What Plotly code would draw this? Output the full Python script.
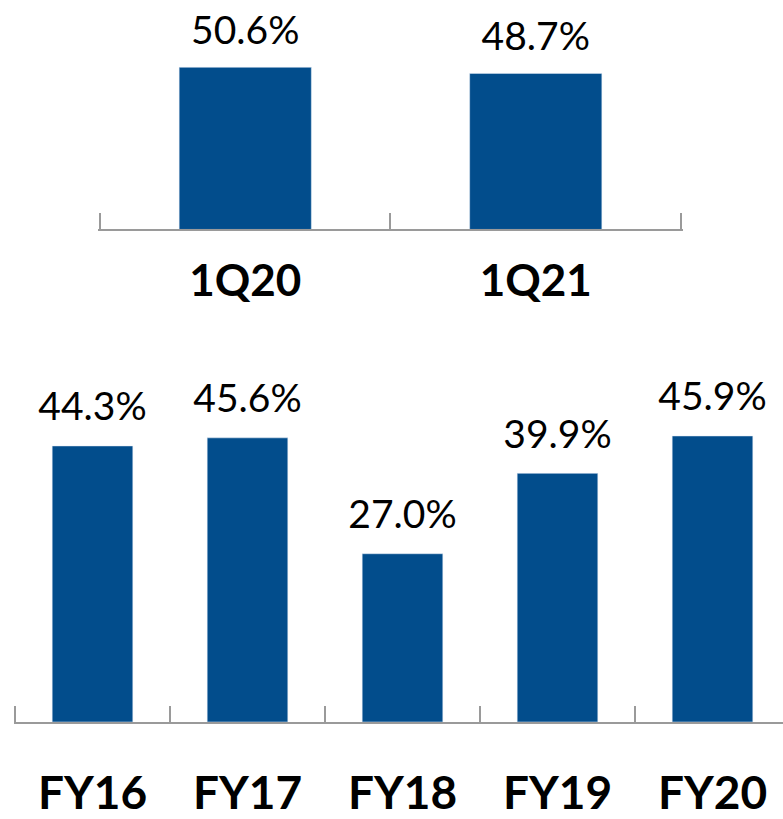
import plotly.graph_objects as go

q_categories = ["1Q20", "1Q21"]
q_values = [50.6, 48.7]
fy_categories = ["FY16", "FY17", "FY18", "FY19", "FY20"]
fy_values = [44.3, 45.6, 27.0, 39.9, 45.9]

BAR = "#024D8C"
AXIS = "#9A9A9A"
FONT = "Lato"

fig = go.Figure()
fig.add_trace(go.Bar(x=q_categories, y=q_values, marker_color=BAR, width=0.455,
                     xaxis="x", yaxis="y", hoverinfo="skip"))
fig.add_trace(go.Scatter(x=q_categories, y=q_values, mode="markers+text",
                         text=[f"{v:.1f}%" for v in q_values], textposition="top center",
                         marker=dict(size=20, opacity=0), cliponaxis=False,
                         textfont=dict(size=39, color="#000", family=FONT),
                         xaxis="x", yaxis="y", hoverinfo="skip"))
fig.add_trace(go.Bar(x=fy_categories, y=fy_values, marker_color=BAR, width=0.52,
                     xaxis="x2", yaxis="y2", hoverinfo="skip"))
fig.add_trace(go.Scatter(x=fy_categories, y=fy_values, mode="markers+text",
                         text=[f"{v:.1f}%" for v in fy_values], textposition="top center",
                         marker=dict(size=24, opacity=0), cliponaxis=False,
                         textfont=dict(size=39, color="#000", family=FONT),
                         xaxis="x2", yaxis="y2", hoverinfo="skip"))

W, H = 783, 819
xax = dict(type="category", showline=True, linecolor=AXIS, linewidth=2,
           ticks="inside", tickson="boundaries", ticklen=16, tickcolor=AXIS, tickwidth=2,
           showgrid=False, zeroline=False, fixedrange=True)
yax = dict(visible=False, showgrid=False, zeroline=False, fixedrange=True)

E = 0.008  # small extension so the end boundary ticks are drawn
QS, FS = 290.5, 155.0  # px per category
fig.update_layout(
    width=W, height=H, margin=dict(l=0, r=0, t=0, b=0),
    paper_bgcolor="white", plot_bgcolor="white", showlegend=False,
    xaxis=dict(xax, domain=[(100 - E * QS) / W, (681 + E * QS) / W],
               range=[-0.5 - E, 1.5 + E], anchor="y",
               tickfont=dict(size=44, color="#000", family=FONT, weight="bold"),
               ticklabelstandoff=12),
    yaxis=dict(yax, domain=[1 - 232 / H, 1.0], range=[0, 232 / 3.24], anchor="x"),
    xaxis2=dict(xax, domain=[(15 - E * FS) / W, 1.0], range=[-0.5 - E, 4.5 - 7 / FS], anchor="y2",
                tickfont=dict(size=46, color="#000", family=FONT, weight="bold"),
                ticklabelstandoff=30),
    yaxis2=dict(yax, domain=[1 - 730 / H, 1 - 345 / H], range=[0, 385 / 6.3], anchor="x2"),
)

fig.write_html("out.html", config={"displayModeBar": False},
               post_script="document.body.style.margin='0';")
